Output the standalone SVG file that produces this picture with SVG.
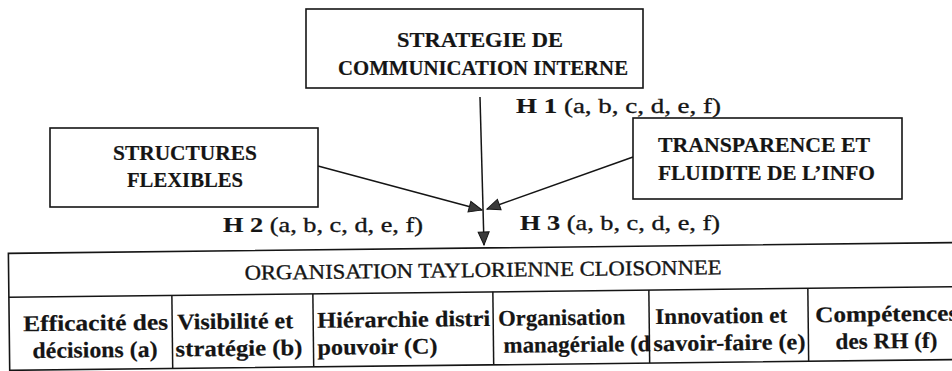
<svg xmlns="http://www.w3.org/2000/svg" width="952" height="371" viewBox="0 0 952 371">
  <style>
    .box { fill: #ffffff; stroke: #151515; stroke-width: 1.6; }
    .line { fill: none; stroke: #151515; stroke-width: 1.5; }
    .b { font-family: "Liberation Serif", "Times New Roman", serif; font-weight: bold; fill: #151515; stroke: #151515; stroke-width: 0.2; }
    .r { font-family: "Liberation Serif", "Times New Roman", serif; font-weight: normal; fill: #151515; stroke: #151515; stroke-width: 0.35; }
    .title { font-size: 21px; }
    .head { font-size: 21px; }
    .hyp { font-size: 22px; }
    .cell { font-size: 22.5px; }
  </style>
  <defs>
    <marker id="arrow" markerUnits="userSpaceOnUse" markerWidth="16" markerHeight="14" refX="14" refY="6.5" orient="auto">
      <path d="M1,1 L14,6.5 L1,12 Z" fill="#3a3a3a" stroke="#151515" stroke-width="1"/>
    </marker>
  </defs>

  <rect width="952" height="371" fill="#ffffff"/>

  <!-- connectors -->
  <g id="connectors">
    <line class="line" x1="480" y1="97" x2="484" y2="245" marker-end="url(#arrow)"/>
    <line class="line" x1="318" y1="166" x2="482" y2="210" marker-end="url(#arrow)"/>
    <line class="line" x1="633" y1="157" x2="487" y2="209" marker-end="url(#arrow)"/>
  </g>

  <!-- hypothesis labels -->
  <g id="labels">
    <text class="hyp" x="516" y="113" textLength="205" lengthAdjust="spacingAndGlyphs"><tspan class="b">H 1</tspan><tspan class="r"> (a, b, c, d, e, f)</tspan></text>
    <text class="hyp" x="223" y="232" textLength="200" lengthAdjust="spacingAndGlyphs"><tspan class="b">H 2</tspan><tspan class="r"> (a, b, c, d, e, f)</tspan></text>
    <text class="hyp" x="520" y="230" textLength="200" lengthAdjust="spacingAndGlyphs"><tspan class="b">H 3</tspan><tspan class="r"> (a, b, c, d, e, f)</tspan></text>
  </g>

  <!-- top node -->
  <g id="strategie">
    <rect class="box" x="306" y="9" width="337" height="79"/>
    <text class="b title" x="397" y="47" textLength="166" lengthAdjust="spacingAndGlyphs">STRATEGIE DE</text>
    <text class="b title" x="338" y="75" textLength="290" lengthAdjust="spacingAndGlyphs">COMMUNICATION INTERNE</text>
  </g>

  <!-- left node -->
  <g id="structures">
    <rect class="box" x="50" y="128" width="268" height="79"/>
    <text class="b title" x="113" y="160" textLength="144" lengthAdjust="spacingAndGlyphs">STRUCTURES</text>
    <text class="b title" x="127" y="187" textLength="116" lengthAdjust="spacingAndGlyphs">FLEXIBLES</text>
  </g>

  <!-- right node -->
  <g id="transparence">
    <rect class="box" x="633" y="118" width="269" height="81"/>
    <text class="b title" x="658" y="152" textLength="212" lengthAdjust="spacingAndGlyphs">TRANSPARENCE ET</text>
    <text class="b title" x="658" y="180" textLength="217" lengthAdjust="spacingAndGlyphs">FLUIDITE DE L’INFO</text>
  </g>

  <!-- bottom table: heading row and six criteria -->
  <g id="organisation" transform="rotate(-0.65 480 305)">
    <rect class="box" x="9" y="248" width="960" height="117"/>
    <line class="line" x1="9" y1="292" x2="969" y2="292"/>
    <line class="line" x1="172" y1="292" x2="172" y2="365"/>
    <line class="line" x1="313" y1="292" x2="313" y2="365"/>
    <line class="line" x1="493" y1="292" x2="493" y2="365"/>
    <line class="line" x1="649" y1="292" x2="649" y2="365"/>
    <line class="line" x1="808" y1="292" x2="808" y2="365"/>

    <text class="r head" x="245" y="277" textLength="477" lengthAdjust="spacingAndGlyphs">ORGANISATION TAYLORIENNE CLOISONNEE</text>

    <text class="b cell" x="23" y="326" textLength="145" lengthAdjust="spacingAndGlyphs">Efficacité des</text>
    <text class="b cell" x="32" y="353" textLength="125" lengthAdjust="spacingAndGlyphs">décisions (a)</text>

    <text class="b cell" x="177" y="326" textLength="116" lengthAdjust="spacingAndGlyphs">Visibilité et</text>
    <text class="b cell" x="175" y="353" textLength="127" lengthAdjust="spacingAndGlyphs">stratégie (b)</text>

    <text class="b cell" x="317" y="326" textLength="173" lengthAdjust="spacingAndGlyphs">Hiérarchie distri</text>
    <text class="b cell" x="317" y="353" textLength="120" lengthAdjust="spacingAndGlyphs">pouvoir (C)</text>

    <text class="b cell" x="498" y="326" textLength="127" lengthAdjust="spacingAndGlyphs">Organisation</text>
    <text class="b cell" x="503" y="353" textLength="147" lengthAdjust="spacingAndGlyphs">managériale (d</text>

    <text class="b cell" x="655" y="326" textLength="132" lengthAdjust="spacingAndGlyphs">Innovation et</text>
    <text class="b cell" x="653" y="353" textLength="152" lengthAdjust="spacingAndGlyphs">savoir-faire (e)</text>

    <text class="b cell" x="815" y="326" textLength="143" lengthAdjust="spacingAndGlyphs">Compétences</text>
    <text class="b cell" x="835" y="353" textLength="102" lengthAdjust="spacingAndGlyphs">des RH (f)</text>
  </g>
</svg>
